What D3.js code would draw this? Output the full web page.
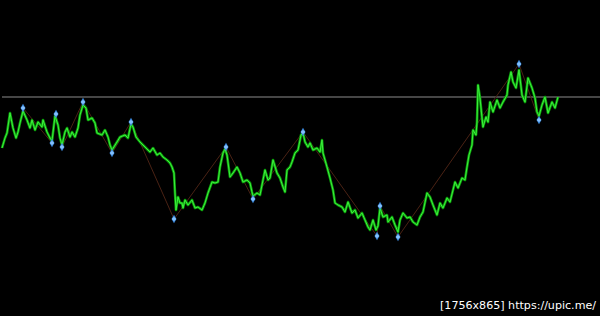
<!DOCTYPE html>
<html>
<head>
<meta charset="utf-8">
<script src="https://cdn.jsdelivr.net/npm/d3@7"></script>
<style>
  html, body { margin: 0; padding: 0; background: #000; }
  #chart { width: 600px; height: 316px; }
</style>
</head>
<body>
<div id="chart"></div>
<script>
// bar number and price level (pips above base)
let bars = [2,5,7,10,13,16,18,20,23,27,30,32,35,38,42,43,47,50,52,55,58,60,62,65,67,70,72,75,78,80,
  83,86,88,92,95,97,102,105,108,110,112,117,120,125,128,131,133,136,140,145,150,153,157,160,163,167,170,172,174,175,
  176,178,180,182,183,185,188,192,195,198,202,205,208,212,215,218,220,223,225,227,230,233,237,240,243,247,250,252,253,257,
  260,262,265,268,270,273,277,280,283,285,287,290,292,295,298,301,303,305,308,310,313,317,320,322,323,327,330,333,335,338,
  342,345,348,352,355,358,362,365,368,370,373,376,378,380,383,387,388,392,395,398,400,403,407,410,413,417,420,423,427,430,
  433,437,440,443,447,450,455,458,462,465,467,469,472,473,476,477,478,480,482,483,486,488,490,493,497,500,503,507,508,511,
  513,516,519,522,525,528,532,535,537,539,542,545,548,552,555,558];
let levels = [152,162,167,187,172,162,168,177,189,180,172,180,170,178,173,180,168,162,159,184,175,162,155,168,172,163,168,163,172,185,
  195,192,180,182,177,167,165,170,163,155,150,158,163,165,162,176,173,163,158,153,148,152,145,147,143,140,137,133,127,107,
  90,103,97,97,92,100,95,100,92,93,90,97,107,118,117,118,133,147,151,145,123,127,133,127,118,120,117,108,104,107,
  105,115,130,120,122,140,127,122,113,108,130,133,138,147,150,165,167,158,153,157,150,152,148,160,147,133,122,110,97,95,
  93,88,98,87,90,82,87,80,73,70,80,70,74,92,83,85,78,83,75,68,80,87,82,83,78,75,83,88,107,103,
  95,85,97,92,102,98,118,112,122,120,133,145,155,170,165,178,215,202,182,173,183,178,198,188,200,192,198,205,215,228,
  218,212,230,205,198,222,212,202,188,184,195,203,187,198,192,203];

// zigzag swing points
let swingBars = [23,52,56,62,83,112,131,174,226,253,303,377,380,398,519,539];
let swingLevels = [192,157,186,153,198,147,178,81,153,101,168,64,94,63,236,180];

let refLevel = 203; // horizontal level line
let caption = "[1756x865] https://upic.me/";

let width = 600, height = 316;

let x = d3.scaleLinear().domain([0, 600]).range([0, width]);
let y = d3.scaleLinear().domain([0, 300]).range([300, 0]);

let svg = d3.select('#chart').append('svg')
  .attr('width', width)
  .attr('height', height)
  .style('background', '#000');

// level line
svg.append('line')
  .attr('x1', x(2)).attr('x2', x(600))
  .attr('y1', y(refLevel)).attr('y2', y(refLevel))
  .attr('stroke', '#8c8c8c')
  .attr('stroke-width', 1);

// zigzag
let swings = swingBars.map((b, i) => ({ b: b, v: swingLevels[i] }));
svg.append('path')
  .datum(swings)
  .attr('fill', 'none')
  .attr('stroke', '#4a2214')
  .attr('stroke-width', 1)
  .attr('d', d3.line().x(d => x(d.b)).y(d => y(d.v)));

// price
let series = bars.map((b, i) => ({ b: b, v: levels[i] }));
let line = d3.line().x(d => x(d.b)).y(d => y(d.v));
svg.append('path')
  .datum(series)
  .attr('fill', 'none')
  .attr('stroke', '#0c9e0c')
  .attr('stroke-width', 2.6)
  .attr('stroke-linejoin', 'round')
  .attr('d', line);
svg.append('path')
  .datum(series)
  .attr('fill', 'none')
  .attr('stroke', '#3cf03c')
  .attr('stroke-width', 1)
  .attr('d', line);

// swing markers
let marks = svg.append('g').selectAll('g')
  .data(swings)
  .join('g')
  .attr('transform', d => `translate(${x(d.b)},${y(d.v)})`);
marks.append('path')
  .attr('d', d3.symbol(d3.symbolDiamond, 22))
  .attr('fill', '#3a86d8');
marks.append('path')
  .attr('d', d3.symbol(d3.symbolCross, 8))
  .attr('fill', '#8cc6ff');

svg.append('text')
  .attr('x', 440)
  .attr('y', 309)
  .attr('fill', '#fff')
  .style('font-family', 'DejaVu Sans, sans-serif')
  .style('font-size', '11px')
  .attr('textLength', 156)
  .attr('lengthAdjust', 'spacingAndGlyphs')
  .text(caption);
</script>
</body>
</html>
